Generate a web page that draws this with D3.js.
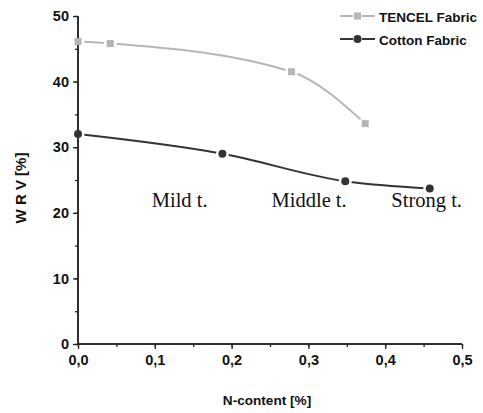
<!DOCTYPE html>
<html><head><meta charset="utf-8">
<script src="https://cdn.jsdelivr.net/npm/d3@7"></script>
<style>body{margin:0;background:#fff}svg{display:block}</style>
</head><body>
<svg id="c" width="483" height="413"></svg>
<script>
const tencelX = [0, 0.042, 0.278, 0.374];
const tencelY = [46.1, 45.8, 41.5, 33.6];
const cottonX = [0, 0.188, 0.348, 0.458];
const cottonY = [32.0, 29.0, 24.8, 23.7];
const xTicks = [0, 0.1, 0.2, 0.3, 0.4, 0.5];
const xTickLabels = ["0,0", "0,1", "0,2", "0,3", "0,4", "0,5"];
const yTicks = [0, 10, 20, 30, 40, 50];
const seriesNames = ["TENCEL Fabric", "Cotton Fabric"];
const notes = ["Mild t.", "Middle t.", "Strong t."];
const noteX = [0.096, 0.252, 0.408];
const noteY = [20.9, 20.9, 20.9];

const svg = d3.select("#c");
const x = d3.scaleLinear().domain([0, 0.5]).range([78, 462]);
const y = d3.scaleLinear().domain([0, 50]).range([344, 16]);
const axisColor = "#222";
const sans = "'Liberation Sans', Arial, sans-serif";

// minor ticks
const gx = svg.append("g").attr("transform", "translate(0,344)")
  .call(d3.axisBottom(x).tickValues(d3.range(0, 0.5001, 0.05)).tickSize(3).tickFormat(""));
const gy = svg.append("g").attr("transform", "translate(78,0)")
  .call(d3.axisLeft(y).tickValues(d3.range(0, 50.01, 5)).tickSize(3).tickFormat(""));
// major ticks
const gx2 = svg.append("g").attr("transform", "translate(0,344)")
  .call(d3.axisBottom(x).tickValues(xTicks).tickSize(5).tickPadding(6)
    .tickFormat((d, i) => xTickLabels[i]));
const gy2 = svg.append("g").attr("transform", "translate(78,0)")
  .call(d3.axisLeft(y).tickValues(yTicks).tickSize(5).tickPadding(4));
[gx, gy, gx2, gy2].forEach(g => {
  g.select(".domain").attr("stroke", axisColor).attr("stroke-width", 1.5);
  g.selectAll(".tick line").attr("stroke", axisColor).attr("stroke-width", 1.3);
  g.selectAll("text").attr("font-family", sans).attr("font-weight", "bold")
    .attr("font-size", 14.5).attr("fill", "#111");
});
gx.select(".domain").attr("d", "M78,0H462");
gy.select(".domain").attr("d", "M0,344V16");
gx2.select(".domain").attr("d", "M78,0H462");
gy2.select(".domain").attr("d", "M0,344V16");

// axis titles
svg.append("text").attr("x", 267).attr("y", 405).attr("text-anchor", "middle")
  .attr("font-family", sans).attr("font-weight", "bold").attr("font-size", 13.6)
  .attr("fill", "#111").text("N-content [%]");
svg.append("text").attr("transform", "translate(26,188) rotate(-90)").attr("text-anchor", "middle")
  .attr("font-family", sans).attr("font-weight", "bold").attr("font-size", 15)
  .attr("fill", "#111").text("W R V [%]");

// series
const series = [
  {name: seriesNames[0], xs: tencelX, ys: tencelY, color: "#b5b5b5", shape: "square"},
  {name: seriesNames[1], xs: cottonX, ys: cottonY, color: "#333333", shape: "circle"}
];
const defs = svg.append("defs");
series.forEach((s, k) => {
  const pts = s.xs.map((v, i) => [x(v), y(s.ys[i])]);
  const m = defs.append("mask").attr("id", "m" + k).attr("maskUnits", "userSpaceOnUse")
    .attr("x", 0).attr("y", 0).attr("width", 483).attr("height", 413);
  m.append("rect").attr("width", 483).attr("height", 413).attr("fill", "#fff");
  pts.forEach(p => m.append("circle").attr("cx", p[0]).attr("cy", p[1]).attr("r", 6.5).attr("fill", "#000"));
  svg.append("path").attr("d", d3.line().curve(d3.curveMonotoneX)(pts))
    .attr("fill", "none").attr("stroke", s.color).attr("stroke-width", 2)
    .attr("mask", "url(#m" + k + ")");
  pts.forEach(p => {
    if (s.shape === "square") {
      svg.append("rect").attr("x", p[0] - 3.5).attr("y", p[1] - 3.5).attr("width", 7).attr("height", 7)
        .attr("fill", s.color);
    } else {
      svg.append("circle").attr("cx", p[0]).attr("cy", p[1]).attr("r", 4).attr("fill", s.color);
    }
  });
});

// legend
series.forEach((s, k) => {
  const ly = 16 + k * 23;
  svg.append("line").attr("x1", 340).attr("x2", 353).attr("y1", ly).attr("y2", ly)
    .attr("stroke", s.color).attr("stroke-width", 2);
  svg.append("line").attr("x1", 362).attr("x2", 375).attr("y1", ly).attr("y2", ly)
    .attr("stroke", s.color).attr("stroke-width", 2);
  if (s.shape === "square") {
    svg.append("rect").attr("x", 357.5 - 3.5).attr("y", ly - 3.5).attr("width", 7).attr("height", 7).attr("fill", s.color);
  } else {
    svg.append("circle").attr("cx", 357.5).attr("cy", ly).attr("r", 4).attr("fill", s.color);
  }
  svg.append("text").attr("x", 379).attr("y", ly + 5.5).attr("font-family", sans)
    .attr("font-weight", "bold").attr("font-size", 13.5).attr("fill", "#111").text(s.name);
});

// annotations
notes.forEach((t, i) => {
  svg.append("text").attr("x", x(noteX[i])).attr("y", y(noteY[i]))
    .attr("font-family", "'Liberation Serif', 'Times New Roman', serif").attr("font-size", 20.5)
    .attr("fill", "#111").text(t);
});
</script>
</body></html>
